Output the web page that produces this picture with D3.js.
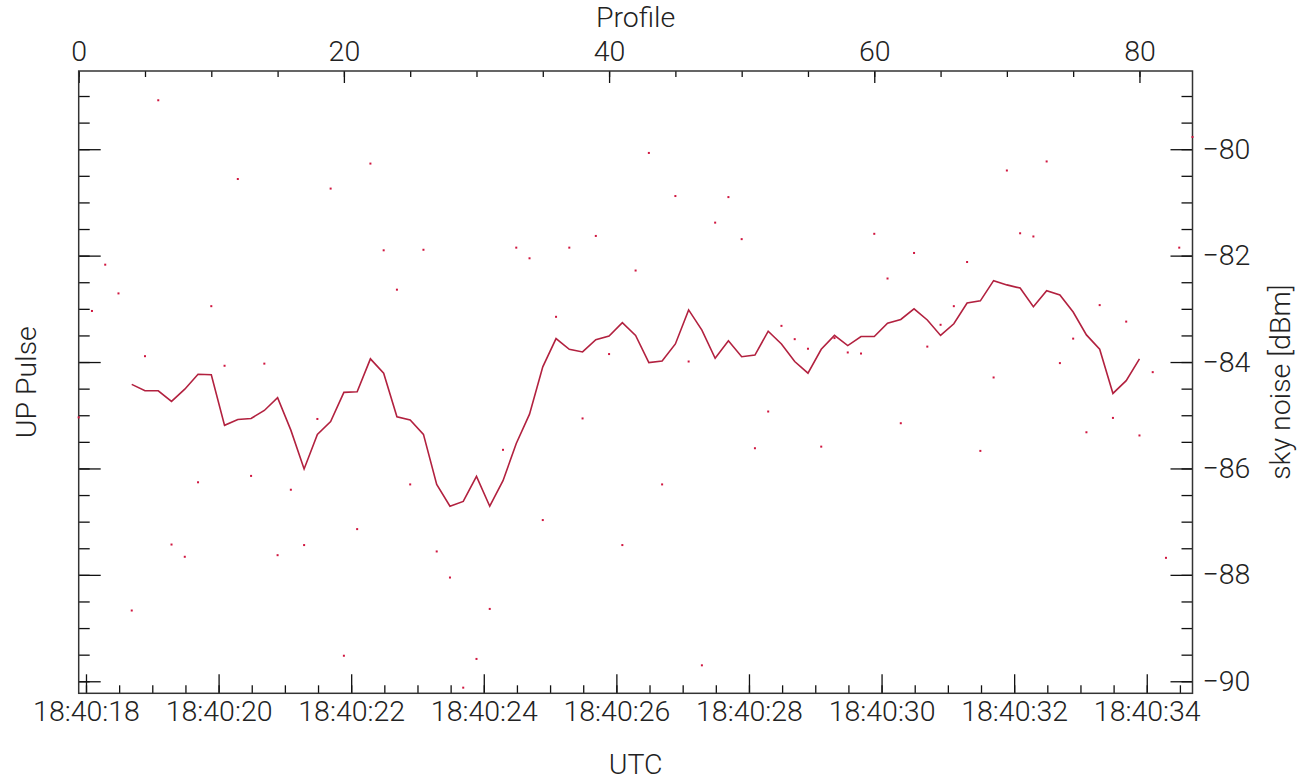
<!DOCTYPE html>
<html>
<head>
<meta charset="utf-8">
<script src="https://cdn.jsdelivr.net/npm/d3@7"></script>
<style>
  html, body { margin: 0; padding: 0; background: #ffffff; }
  svg { display: block; }
  text { font-family: Roboto, "DejaVu Sans", sans-serif; font-weight: 300; fill: #222; }
</style>
</head>
<body>
<svg id="chart" width="1315" height="780"></svg>
<script>
// ---------------- data ----------------
// sky noise (line), per profile number
const noiseProfiles = [4,5,6,7,8,9,10,11,12,13,14,15,16,17,18,19,20,21,22,23,24,25,26,27,28,29,30,
  31,32,33,34,35,36,37,38,39,40,41,42,43,44,45,46,47,48,49,50,51,52,53,54,55,56,57,58,59,60,
  61,62,63,64,65,66,67,68,69,70,71,72,73,74,75,76,77,78,79,80];
const noiseValues = [-84.42,-84.54,-84.54,-84.74,-84.51,-84.23,-84.24,-85.19,-85.08,-85.06,-84.91,-84.67,
  -85.28,-86.01,-85.36,-85.12,-84.57,-84.56,-83.94,-84.21,-85.03,-85.09,-85.36,-86.30,-86.71,-86.62,
  -86.15,-86.71,-86.23,-85.53,-84.98,-84.09,-83.56,-83.76,-83.81,-83.58,-83.51,-83.26,-83.50,-84.01,
  -83.98,-83.66,-83.02,-83.40,-83.93,-83.60,-83.90,-83.87,-83.42,-83.66,-83.99,-84.21,-83.76,-83.50,
  -83.69,-83.52,-83.52,-83.27,-83.20,-83.00,-83.21,-83.50,-83.28,-82.89,-82.85,-82.47,-82.55,-82.61,
  -82.96,-82.66,-82.74,-83.06,-83.49,-83.76,-84.59,-84.35,-83.94];

// UP pulse (dots), per profile number
const pulseProfiles = [0,1,2,3,4,5,6,7,8,9,10,11,12,13,14,15,16,17,18,19,20,21,22,23,24,25,26,27,28,29,30,
  31,32,33,34,35,36,37,38,39,40,41,42,43,44,45,46,47,48,49,50,51,52,53,54,55,56,57,58,59,60,
  61,62,63,64,65,66,67,68,69,70,71,72,73,74,75,76,77,78,79,80,81,82,83,84];
const pulseValues = [-85.04,-83.04,-82.17,-82.71,-88.67,-83.89,-79.08,-87.43,-87.66,-86.26,-82.95,-84.07,
  -80.56,-86.14,-84.03,-87.63,-86.40,-87.44,-85.07,-80.74,-89.52,-87.14,-80.27,-81.90,-82.64,-86.30,
  -81.89,-87.56,-88.05,-90.12,-89.58,-88.64,-85.65,-81.85,-82.05,-86.97,-83.15,-81.85,-85.06,-81.63,
  -83.85,-87.44,-82.28,-80.07,-86.30,-80.88,-83.99,-89.70,-81.38,-80.90,-81.69,-85.62,-84.93,-83.32,
  -83.57,-83.75,-85.59,-83.55,-83.82,-83.84,-81.59,-82.43,-85.15,-81.95,-83.71,-83.30,-82.95,-82.12,
  -85.67,-84.29,-80.40,-81.58,-81.64,-80.23,-84.02,-83.56,-85.32,-82.93,-85.05,-83.24,-85.38,-84.19,
  -87.68,-81.85,-79.77];

// axes
const profileDomain = [0, 84];
const profileMajorTicks = [0, 20, 40, 60, 80];
const profileMinorTicks = [0,5,10,15,20,25,30,35,40,45,50,55,60,65,70,75,80];
const timeStart = "18:40:17.890";   // time of profile 0
const timeEnd = "18:40:34.690";     // time of profile 84
const timeTickLabels = ["18:40:18","18:40:20","18:40:22","18:40:24","18:40:26","18:40:28","18:40:30","18:40:32","18:40:34"];
const timeMinorSeconds = [18,18.5,19,19.5,20,20.5,21,21.5,22,22.5,23,23.5,24,24.5,25,25.5,26,26.5,27,27.5,
  28,28.5,29,29.5,30,30.5,31,31.5,32,32.5,33,33.5,34,34.5];
const yDomain = [-90.226, -78.53];
const yMajorTicks = [-90,-88,-86,-84,-82,-80];
const yMinorTicks = [-90,-89.5,-89,-88.5,-88,-87.5,-87,-86.5,-86,-85.5,-85,-84.5,-84,-83.5,-83,-82.5,-82,-81.5,-81,-80.5,-80,-79.5,-79];

// ---------------- drawing ----------------
const svg = d3.select("#chart");
const L = 78.7, R = 1192.5, T = 71, B = 693.3;
const FS = 28.5;

function toDate(s) {
  const [h, m, sec] = s.split(":");
  return new Date(Date.UTC(2000, 0, 1, +h, +m, 0, Math.round(parseFloat(sec) * 1000)));
}
function secToDate(sec) { return new Date(Date.UTC(2000, 0, 1, 18, 40, 0, Math.round(sec * 1000))); }

const xP = d3.scaleLinear().domain(profileDomain).range([L, R]);
const xT = d3.scaleUtc().domain([toDate(timeStart), toDate(timeEnd)]).range([L, R]);
const y = d3.scaleLinear().domain(yDomain).range([B, T]);
const yLeft = d3.scaleLinear().domain(yDomain).range([B, T]);

function styleAxis(g, showText) {
  g.select(".domain").remove();
  g.selectAll(".tick line").attr("stroke", "#111").attr("stroke-width", 1.3);
  g.selectAll(".tick text").style("font-size", FS + "px").attr("fill", "#222")
    .style("font-family", "Roboto, 'DejaVu Sans', sans-serif").style("font-weight", 300);
  if (!showText) g.selectAll(".tick text").remove();
}

// top axis (Profile)
svg.append("g").attr("transform", `translate(0,${T})`)
  .call(d3.axisTop(xP).tickValues(profileMinorTicks).tickSize(-6).tickFormat(""))
  .call(g => styleAxis(g, false));
svg.append("g").attr("transform", `translate(0,${T})`)
  .call(d3.axisTop(xP).tickValues(profileMajorTicks).tickSize(-12).tickPadding(10).tickFormat(d3.format("d")))
  .call(g => styleAxis(g, true));

// bottom axis (UTC)
const fmtT = d3.utcFormat("%H:%M:%S");
const majorDates = timeTickLabels.map(s => toDate(s));
svg.append("g").attr("transform", `translate(0,${B})`)
  .call(d3.axisBottom(xT).tickValues(timeMinorSeconds.map(secToDate)).tickSize(-8).tickFormat(""))
  .call(g => styleAxis(g, false));
svg.append("g").attr("transform", `translate(0,${B})`)
  .call(d3.axisBottom(xT).tickValues(majorDates).tickSize(-19).tickPadding(7).tickFormat(fmtT))
  .call(g => styleAxis(g, true));

// left axis (UP Pulse, no labels)
svg.append("g").attr("transform", `translate(${L},0)`)
  .call(d3.axisLeft(yLeft).tickValues(yMinorTicks).tickSize(-11).tickFormat(""))
  .call(g => styleAxis(g, false));
svg.append("g").attr("transform", `translate(${L},0)`)
  .call(d3.axisLeft(yLeft).tickValues(yMajorTicks).tickSize(-22).tickFormat(""))
  .call(g => styleAxis(g, false));

// right axis (sky noise)
svg.append("g").attr("transform", `translate(${R},0)`)
  .call(d3.axisRight(y).tickValues(yMinorTicks).tickSize(-11).tickFormat(""))
  .call(g => styleAxis(g, false));
svg.append("g").attr("transform", `translate(${R},0)`)
  .call(d3.axisRight(y).tickValues(yMajorTicks).tickSize(-22).tickPadding(10)
    .tickFormat(d => d < 0 ? "\u2212" + Math.abs(d) : String(d)))
  .call(g => styleAxis(g, true));

// frame
svg.append("rect").attr("x", L).attr("y", T).attr("width", R - L).attr("height", B - T)
  .attr("fill", "none").attr("stroke", "#333").attr("stroke-width", 1.5);

// dots (UP Pulse)
const pulse = pulseProfiles.map((p, i) => ({ p, v: pulseValues[i] }));
svg.append("g").selectAll("rect").data(pulse).join("rect")
  .attr("x", d => xP(d.p) - 1).attr("y", d => yLeft(d.v) - 1)
  .attr("width", 2).attr("height", 2).attr("fill", "#d0163f");

// line (sky noise)
const noise = noiseProfiles.map((p, i) => ({ p, v: noiseValues[i] }));
svg.append("path").datum(noise)
  .attr("fill", "none").attr("stroke", "#b2213f").attr("stroke-width", 1.6)
  .attr("stroke-linejoin", "miter")
  .attr("d", d3.line().x(d => xP(d.p)).y(d => y(d.v)));

// titles
const titleStyle = s => s.style("font-size", FS + "px").attr("text-anchor", "middle");
svg.append("text").attr("x", (L + R) / 2).attr("y", 27).text("Profile").call(titleStyle);
svg.append("text").attr("x", (L + R) / 2).attr("y", 774).text("UTC").call(titleStyle);
svg.append("text").attr("transform", `translate(36,${(T + B) / 2}) rotate(-90)`).text("UP Pulse").call(titleStyle);
svg.append("text").attr("transform", `translate(1290,${(T + B) / 2}) rotate(-90)`).text("sky noise [dBm]").call(titleStyle);
</script>
</body>
</html>
